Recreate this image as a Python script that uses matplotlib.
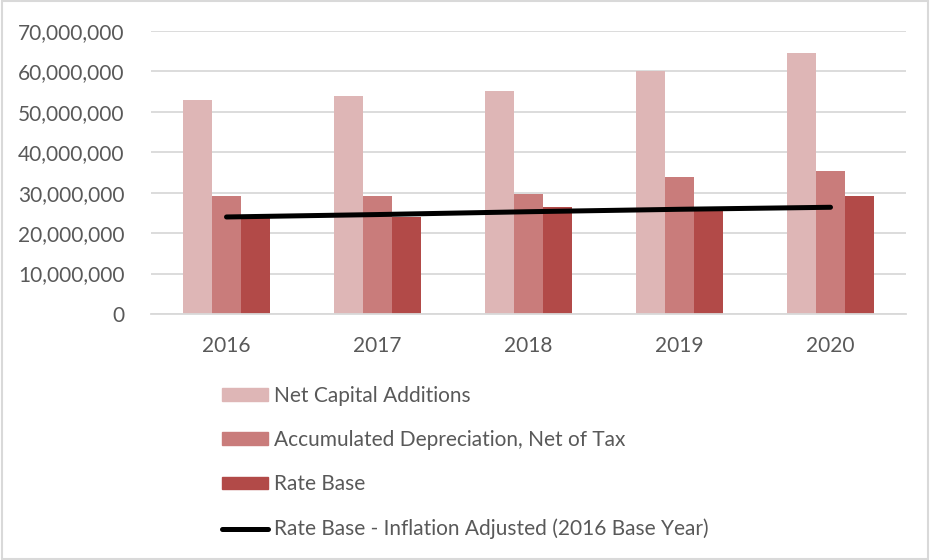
import numpy as np
import matplotlib.pyplot as plt
from matplotlib.patches import Rectangle, Patch
from matplotlib.lines import Line2D
from matplotlib.ticker import FuncFormatter

years = ["2016", "2017", "2018", "2019", "2020"]
net_capital_additions = [53.0e6, 54.0e6, 55.1e6, 60.2e6, 64.6e6]
accum_depreciation = [29.1e6, 29.3e6, 29.7e6, 33.9e6, 35.4e6]
rate_base = [23.7e6, 24.1e6, 26.4e6, 25.5e6, 29.3e6]
rate_base_inflation = [24.0e6, 24.6e6, 25.3e6, 25.9e6, 26.4e6]

labels = ["Net Capital Additions", "Accumulated Depreciation, Net of Tax",
          "Rate Base", "Rate Base - Inflation Adjusted (2016 Base Year)"]
colors = ["#DEB6B6", "#C97C7B", "#B24A48"]
text_col = "#595959"
grid_col = "#D9D9D9"

plt.rcParams['font.family'] = ['Lato', 'DejaVu Sans']

fig = plt.figure(figsize=(9.3, 5.6), dpi=100)
ax = fig.add_axes([151 / 930, 1 - 314 / 560, (906 - 151) / 930, (314 - 31) / 560])

x = np.arange(len(years))
w = 0.19
ax.bar(x - w, net_capital_additions, w, color=colors[0], zorder=2)
ax.bar(x, accum_depreciation, w, color=colors[1], zorder=2)
ax.bar(x + w, rate_base, w, color=colors[2], zorder=2)
ax.plot(x, rate_base_inflation, color="black", lw=3.6, solid_capstyle="round", zorder=3)

ax.set_xlim(-0.5, len(years) - 0.5)
ax.set_ylim(0, 70e6)
ax.set_yticks(np.arange(0, 70e6 + 1, 10e6))
ax.yaxis.set_major_formatter(FuncFormatter(lambda v, p: f"{int(v):,}"))
ax.set_xticks(x)
ax.set_xticklabels(years)
ax.grid(axis="y", color=grid_col, lw=1.3, zorder=0)
ax.set_axisbelow(True)
for s in ["top", "right", "left"]:
    ax.spines[s].set_visible(False)
ax.spines["bottom"].set_color(grid_col)
ax.spines["bottom"].set_linewidth(1.3)
ax.tick_params(axis="both", length=0, labelsize=15, colors=text_col)
ax.tick_params(axis="y", pad=19)
ax.tick_params(axis="x", pad=16)

handles = [Patch(color=colors[0]), Patch(color=colors[1]), Patch(color=colors[2]),
           Line2D([0], [0], color="black", lw=3.6, solid_capstyle="round")]
fig.legend(handles, labels, loc="upper left", bbox_to_anchor=(203 / 930, 1 - 367 / 560),
           frameon=False, fontsize=15, labelcolor=text_col, handlelength=2.2,
           handleheight=0.55, handletextpad=0.3, labelspacing=1.17)

# chart border
fig.patches.append(Rectangle((0.002, 0.002), 0.996, 0.996, transform=fig.transFigure,
                             fill=False, edgecolor="#D9D9D9", lw=1.5))

fig.savefig("out.png", dpi=100)
